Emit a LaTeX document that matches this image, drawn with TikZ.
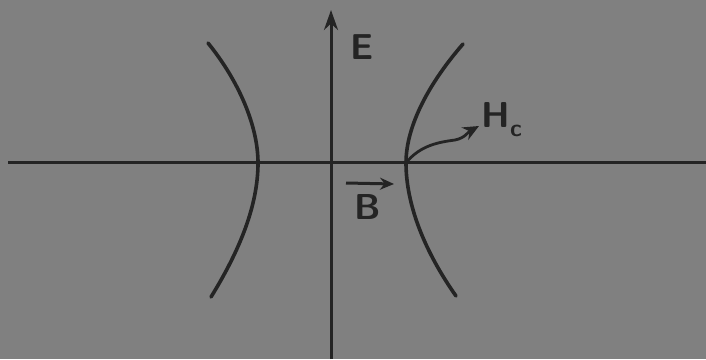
\documentclass[tikz,border=0pt]{standalone}
\usetikzlibrary{arrows.meta}
\definecolor{paper}{RGB}{128,128,128}
\definecolor{ink}{RGB}{36,36,36}
\tikzset{
  axis/.style={draw=ink, line width=3pt},
  branch/.style={draw=ink, line width=3.6pt, line cap=round},
  lbl/.style={text=ink, font=\sffamily\bfseries\fontsize{36}{40}\selectfont, inner sep=0pt},
  sublbl/.style={text=ink, font=\sffamily\bfseries\fontsize{24}{26}\selectfont, inner sep=0pt},
  tip/.style={-{Stealth[length=20pt,width=14pt]}},
}
\begin{document}
\begin{tikzpicture}[x=1pt,y=-1pt]
  \fill[paper] (0,0) rectangle (706,359);
  \useasboundingbox (0,0) rectangle (706,359);
  % axes
  \coordinate (xl) at (8,162);
  \coordinate (xr) at (706,162);
  \coordinate (yb) at (331,359);
  \coordinate (yt) at (331,10);
  \draw[axis] (xl) -- (xr);
  \draw[axis, tip] (yb) -- (yt);
  % hyperbola branches
  \coordinate (lt) at (208,43);
  \coordinate (lv) at (258,163);
  \coordinate (lb) at (211,297);
  \coordinate (rt) at (463,44);
  \coordinate (rv) at (406,163);
  \coordinate (rb) at (456,296);
  \draw[branch] (lt) .. controls (238,80) and (258,125) .. (lv)
                     .. controls (258,205) and (240,250) .. (lb);
  \draw[branch] (rt) .. controls (430,82) and (406,125) .. (rv)
                     .. controls (406,205) and (425,252) .. (rb);
  % labels
  \node[lbl] (E) at (362,47) {E};
  \node[lbl] (B) at (368,207) {B};
  \coordinate (bl) at (346,183);
  \coordinate (br) at (394,184);
  \draw[draw=ink, line width=3pt, -{Stealth[length=14pt,width=12pt]}] (bl) -- (br);
  \node[lbl] (H) at (496,115) {H};
  \node[sublbl] (c) at (516,131) {c};
  \draw[draw=ink, line width=2.8pt, -{Stealth[length=16pt,width=14pt]}] (rv) .. controls (420,145) and (440,142) .. (455,140)
     .. controls (465,138) and (468,132) .. (479,126);
\end{tikzpicture}
\end{document}
